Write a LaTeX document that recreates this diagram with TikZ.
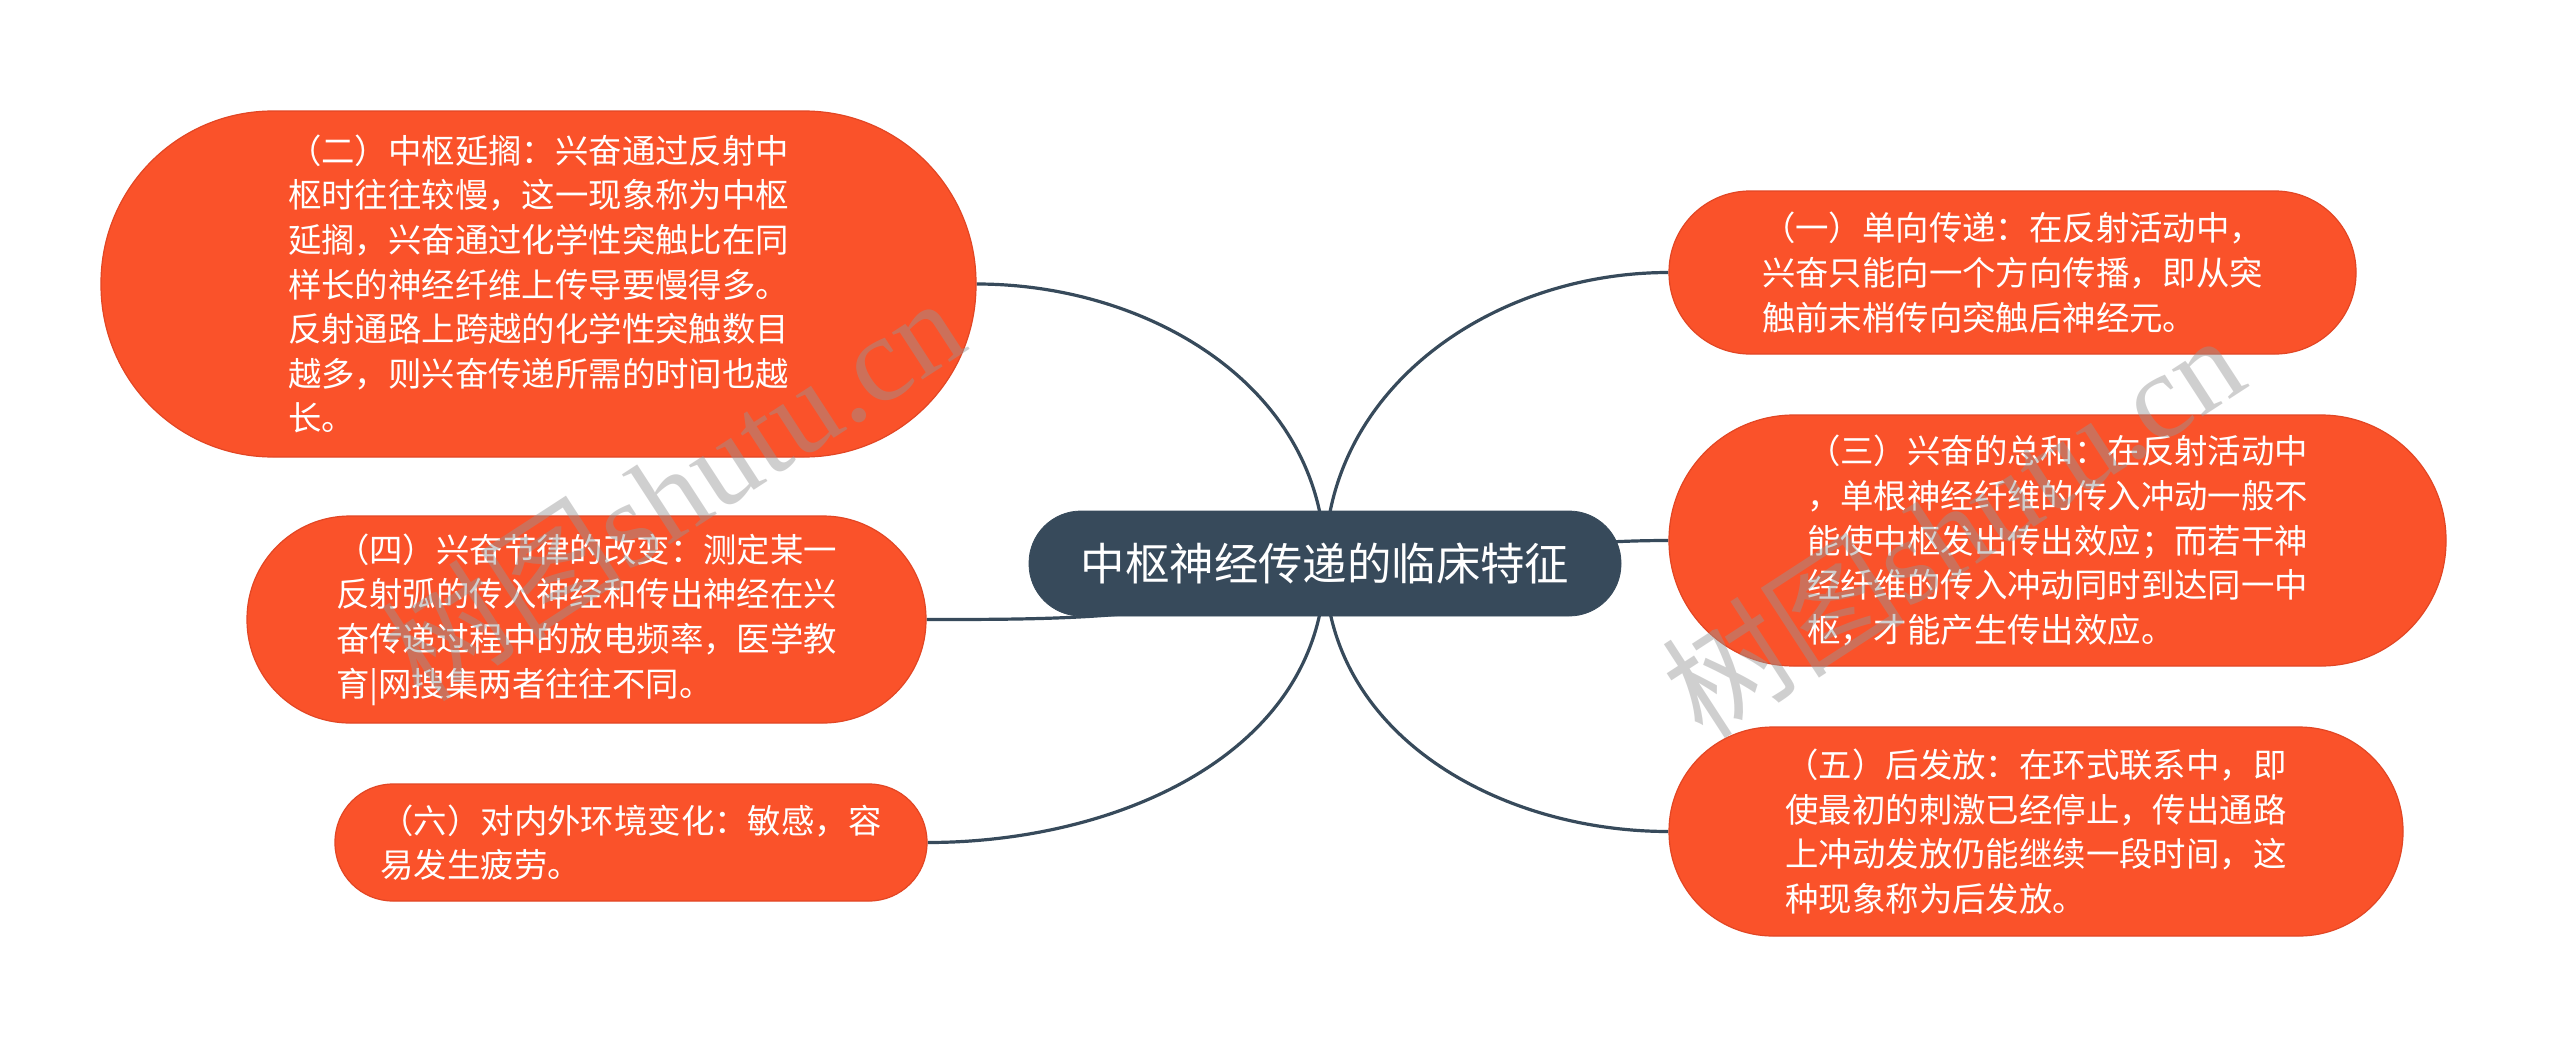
\documentclass[tikz,border=0pt]{standalone}
\usepackage{fontspec}
\setmainfont{Noto Sans CJK SC}
\newfontfamily\cjkf{Noto Sans CJK SC}
\newfontfamily\wmlatin{Liberation Serif}
\usetikzlibrary{backgrounds}
\definecolor{rootc}{RGB}{55,74,91}
\definecolor{orf}{RGB}{250,82,42}
\definecolor{ordk}{RGB}{226,70,36}
\definecolor{wmgray}{RGB}{150,150,150}
\tikzset{
  leaf/.style={fill=orf, draw=ordk, line width=0.6pt, text=white,
    font=\fontsize{16.7}{22.3}\selectfont, align=left, inner sep=0pt},
  rootbox/.style={fill=rootc, draw=rootc, text=white,
    font=\fontsize{22.2}{26}\selectfont, inner sep=0pt,
    minimum width=296pt, minimum height=52.5pt, rounded corners=26pt},
  conn/.style={draw=rootc, line width=1.6pt},
  wm/.style={text=wmgray, opacity=0.45, inner sep=0pt, rotate=33,
    font=\fontsize{61}{63}\selectfont}
}
\begin{document}
\begin{tikzpicture}[x=0.5pt,y=-0.5pt]
\useasboundingbox (0,0) rectangle (2560,1049);

\node[rootbox] (root) at (1325,563.5) {中枢神经传递的临床特征};

\node[leaf, minimum width=437.5pt, minimum height=173pt, rounded corners=86pt] (n2) at (538.5,284)
 {（二）中枢延搁：兴奋通过反射中\\枢时往往较慢，这一现象称为中枢\\延搁，兴奋通过化学性突触比在同\\样长的神经纤维上传导要慢得多。\\反射通路上跨越的化学性突触数目\\越多，则兴奋传递所需的时间也越\\长。};

\node[leaf, minimum width=343.5pt, minimum height=81.5pt, rounded corners=40.5pt] (n1) at (2012.5,272.5)
 {（一）单向传递：在反射活动中，\\兴奋只能向一个方向传播，即从突\\触前末梢传向突触后神经元。};

\node[leaf, minimum width=388.5pt, minimum height=125.5pt, rounded corners=62.5pt] (n3) at (2057.5,540.5)
 {（三）兴奋的总和：在反射活动中\\，单根神经纤维的传入冲动一般不\\能使中枢发出传出效应；而若干神\\经纤维的传入冲动同时到达同一中\\枢，才能产生传出效应。};

\node[leaf, minimum width=339.5pt, minimum height=103.5pt, rounded corners=51.5pt] (n4) at (586.5,619.5)
 {（四）兴奋节律的改变：测定某一\\反射弧的传入神经和传出神经在兴\\奋传递过程中的放电频率，医学教\\育|网搜集两者往往不同。};

\node[leaf, minimum width=367pt, minimum height=104.5pt, rounded corners=52pt] (n5) at (2036,831.5)
 {（五）后发放：在环式联系中，即\\使最初的刺激已经停止，传出通路\\上冲动发放仍能继续一段时间，这\\种现象称为后发放。};

\node[leaf, minimum width=296pt, minimum height=58.5pt, rounded corners=29pt] (n6) at (631,842.5)
 {（六）对内外环境变化：敏感，容\\易发生疲劳。};

\begin{scope}[on background layer]
\fill[white] (0,0) rectangle (2560,1049);
\draw[conn] (root.center) to[out=90,in=0] (n2.east);
\draw[conn] (root.center) to[out=90,in=180] (n1.west);
\draw[conn] (root.center) to[out=0,in=180] (n3.west);
\draw[conn] (root.center) .. controls +(-120,56) and +(150,0) .. (n4.east);
\draw[conn] (root.center) to[out=-90,in=0] (n6.east);
\draw[conn] (root.center) to[out=-90,in=180] (n5.west);
\end{scope}

\node[wm] (wm1) at (672,488) {树图{\wmlatin shutu.cn}};
\node[wm] (wm2) at (1952,525) {树图{\wmlatin shutu.cn}};
\end{tikzpicture}
\end{document}
